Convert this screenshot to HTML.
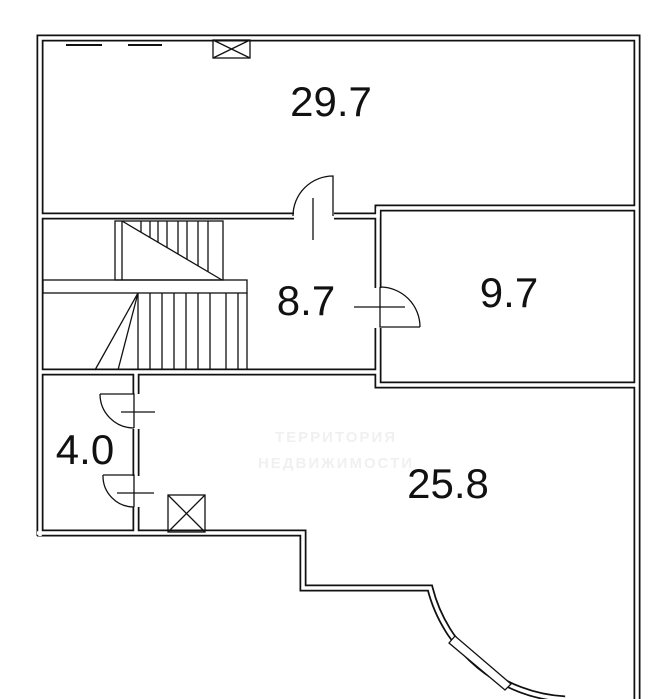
<!DOCTYPE html>
<html><head><meta charset="utf-8"><style>
html,body{margin:0;padding:0;background:#fff;width:672px;height:699px;overflow:hidden}
svg{display:block}
text{font-family:"Liberation Sans",sans-serif}
</style></head><body>
<svg width="672" height="699" viewBox="0 0 672 699" xmlns="http://www.w3.org/2000/svg">
<g fill="none" stroke-linejoin="miter">
<g stroke="#111" stroke-width="7">
<path d="M40 536 L40 38 L637 38 L637 699"/>
<path d="M40 216 L378 216 L378 208 L637 208"/>
<path d="M378 208 L378 385 L637 385"/>
<path d="M40 372 L378 372"/>
<path d="M136 372 L136 533"/>
<path d="M37 533 L303 533 L303 588 L430 588 A147 147 0 0 0 565 699"/>
</g>
<g stroke="#fff" stroke-width="3.5">
<path d="M40 536 L40 38 L637 38 L637 699"/>
<path d="M40 216 L378 216 L378 208 L637 208"/>
<path d="M378 208 L378 385 L637 385"/>
<path d="M40 372 L378 372"/>
<path d="M136 372 L136 533"/>
<path d="M37 533 L303 533 L303 588 L430 588 A147 147 0 0 0 565 699"/>
</g>
<!-- door openings -->
<rect x="294" y="212" width="40" height="8" fill="#fff" stroke="none"/>
<rect x="374" y="288" width="8" height="40" fill="#fff" stroke="none"/>
<rect x="132" y="394" width="8" height="35" fill="#fff" stroke="none"/>
<rect x="132" y="476" width="8" height="31" fill="#fff" stroke="none"/>
<g stroke="#111" stroke-width="1.3">
<path d="M333 216 L333 176 A40 40 0 0 0 293 216"/>
<line x1="313" y1="198" x2="313" y2="240"/>
<path d="M380 287 L380 327 L420 327 M380 287 A40 40 0 0 1 420 327"/>
<line x1="354" y1="307" x2="405" y2="307"/>
<path d="M100 394 L134 394 L134 428 M100 394 A34 34 0 0 0 134 428"/>
<line x1="121" y1="412" x2="155" y2="412"/>
<path d="M103 475 L134 475 L134 507 M103 475 A31 31 0 0 0 134 507"/>
<line x1="117" y1="493" x2="154" y2="493"/>
<rect x="213" y="40" width="37" height="18"/>
<path d="M213 40 L250 58 M250 40 L213 58"/>
<rect x="168" y="495" width="37" height="37"/>
<path d="M168 495 L205 532 M205 495 L168 532"/>
<line x1="66" y1="45" x2="102" y2="45" stroke-width="2"/>
<line x1="128" y1="45" x2="162" y2="45" stroke-width="2"/>
<rect x="115" y="221" width="108" height="59"/>
<line x1="122" y1="221" x2="122" y2="280"/>
<line x1="122" y1="221" x2="222" y2="280"/>
<path d="M141 221 V232 M150 221 V238 M158 221 V242 M167 221 V248 M178 221 V254 M187 221 V259 M198 221 V266 M208 221 V272"/>
<rect x="43" y="280" width="204" height="13"/>
<path d="M138 293 V370 M150 293 V370 M162 293 V370 M174 293 V370 M186 293 V370 M198 293 V370 M210 293 V370 M226 293 V370 M238 293 V370 M247 293 V370"/>
<path d="M138 293 L95 370 M138 293 L118 370"/>
<path d="M455 636 L449 643 L505 690 L511 684 Z" fill="#fff"/>
</g>
</g>
<g opacity="0.12" fill="#888">
<text x="336" y="442" font-size="15" font-weight="bold" text-anchor="middle" letter-spacing="2">ТЕРРИТОРИЯ</text>
<text x="336" y="468" font-size="15" font-weight="bold" text-anchor="middle" letter-spacing="2">НЕДВИЖИМОСТИ</text>
</g>
<g fill="#111" font-size="42" text-anchor="middle">
<text x="331" y="116">29.7</text>
<text x="306" y="315">8.7</text>
<text x="509" y="307">9.7</text>
<text x="85" y="464">4.0</text>
<text x="448" y="498">25.8</text>
</g>
</svg>
</body></html>
